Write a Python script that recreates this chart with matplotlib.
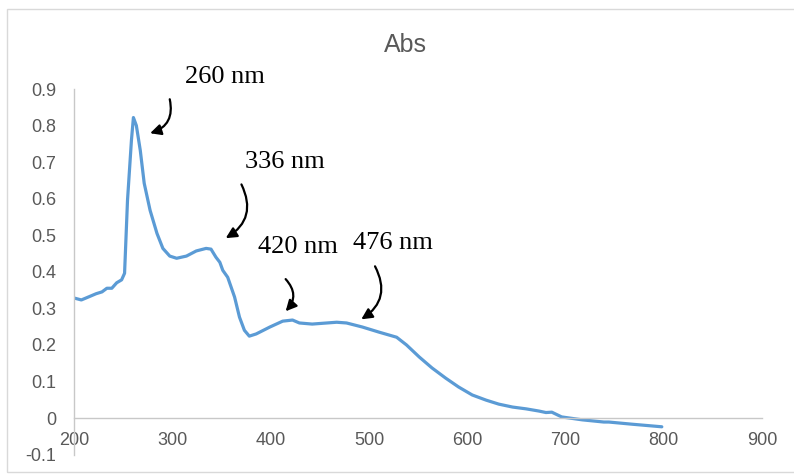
import matplotlib
matplotlib.use("Agg")
import matplotlib.pyplot as plt
from matplotlib.patches import Rectangle

# Data
wavelength = [200, 207, 215, 222, 228, 233, 238, 243, 248, 251, 254, 258, 260, 263,
              267, 271, 277, 284, 290, 297, 304, 314, 324, 334, 339, 344, 348, 351,
              356, 363, 368, 373, 378, 385, 399, 412, 422, 429, 442, 467, 477, 493,
              510, 528, 538, 551, 564, 578, 591, 605, 619, 632, 646, 660, 673, 680,
              686, 696, 717, 739, 744, 768, 798]
absorbance = [0.328, 0.323, 0.332, 0.340, 0.345, 0.355, 0.355, 0.370, 0.378, 0.396,
              0.596, 0.760, 0.822, 0.800, 0.732, 0.642, 0.568, 0.505, 0.464, 0.443,
              0.437, 0.443, 0.457, 0.464, 0.462, 0.440, 0.426, 0.404, 0.385, 0.331,
              0.276, 0.240, 0.224, 0.230, 0.249, 0.265, 0.268, 0.260, 0.257, 0.262,
              0.260, 0.249, 0.235, 0.221, 0.200, 0.167, 0.137, 0.109, 0.085, 0.063,
              0.049, 0.038, 0.030, 0.025, 0.019, 0.015, 0.016, 0.003, -0.005, -0.011,
              -0.011, -0.017, -0.024]

x_ticks = [200, 300, 400, 500, 600, 700, 800, 900]
y_ticks = [-0.1, 0, 0.1, 0.2, 0.3, 0.4, 0.5, 0.6, 0.7, 0.8, 0.9]

peak_labels = ["260 nm", "336 nm", "420 nm", "476 nm"]
label_pos = [(353, 0.932), (414, 0.700), (428, 0.467), (524, 0.478)]
arrow_start = [(297, 0.872), (370, 0.639), (415, 0.380), (506, 0.415)]
arrow_tip = [(277, 0.779), (354, 0.492), (415, 0.292), (492, 0.270)]

fig = plt.figure(figsize=(7.94, 4.75), dpi=100)
fig.patches.append(Rectangle((7 / 794, 1 - 472 / 475), 1.0, (472 - 9) / 475,
                             transform=fig.transFigure, fill=False,
                             edgecolor="#D9D9D9", linewidth=1.0))
ax = fig.add_axes([0.0938, 0.043, 0.9597 - 0.0938, 0.8126 - 0.043])

ax.plot(wavelength, absorbance, color="#5B9BD5", linewidth=2.3,
        solid_capstyle="round", solid_joinstyle="round")

ax.set_xlim(200, 900)
ax.set_ylim(-0.1, 0.9)
ax.set_xticks(x_ticks)
ax.set_xticklabels([str(t) for t in x_ticks])
ax.set_yticks(y_ticks)
ax.set_yticklabels(["-0.1", "0"] + [f"{t:.1f}" for t in y_ticks[2:]])

for s in ["top", "right"]:
    ax.spines[s].set_visible(False)
ax.spines["bottom"].set_position(("data", 0))
ax.spines["bottom"].set_color("#C8C8C8")
ax.spines["left"].set_color("#C8C8C8")
ax.spines["bottom"].set_linewidth(1.0)
ax.spines["left"].set_linewidth(1.0)

ax.tick_params(axis="x", length=0, pad=10, labelcolor="#595959", labelsize=13)
ax.tick_params(axis="y", length=0, pad=13, labelcolor="#595959", labelsize=13)
for lab in ax.get_xticklabels() + ax.get_yticklabels():
    lab.set_fontfamily("Liberation Sans")

fig.text(405 / 794, 1 - 45 / 475, "Abs", ha="center", va="center",
         fontsize=18, color="#595959", family="Liberation Sans")

for text, (tx, ty), (sx, sy), (px, py) in zip(peak_labels, label_pos, arrow_start, arrow_tip):
    ax.text(tx, ty, text, ha="center", va="center", fontsize=19,
            family="Liberation Serif", color="black", clip_on=False)
    ax.annotate("", xy=(px, py), xytext=(sx, sy),
                arrowprops=dict(arrowstyle="-|>", color="black", lw=1.6,
                                mutation_scale=16, shrinkA=0, shrinkB=0,
                                connectionstyle="arc3,rad=-0.45"),
                annotation_clip=False)

fig.savefig("out.png", dpi=100)
